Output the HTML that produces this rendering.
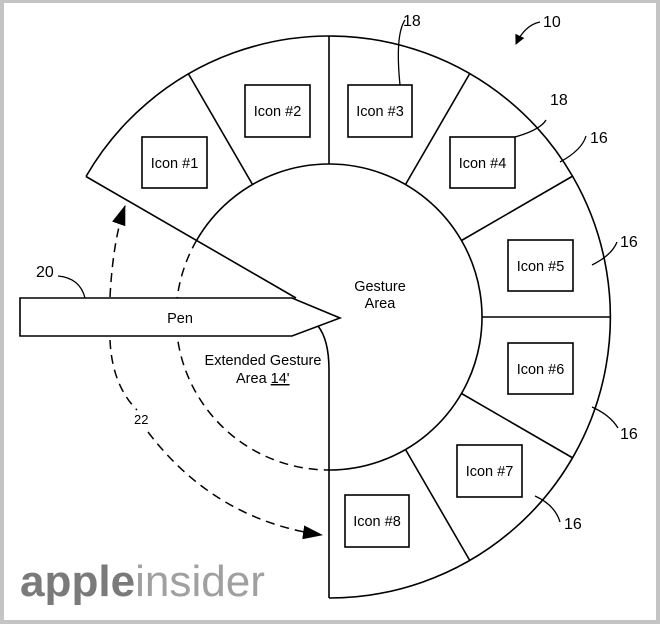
<!DOCTYPE html>
<html><head><meta charset="utf-8"><style>
html,body{margin:0;padding:0;background:#fff;}
svg{display:block;}
text{font-family:"Liberation Sans",sans-serif;fill:#000;}
</style></head><body>
<svg width="660" height="624" viewBox="0 0 660 624" xmlns="http://www.w3.org/2000/svg">
<rect x="0" y="0" width="660" height="624" fill="#c4c4c4"/>
<rect x="4" y="3" width="652" height="617" fill="#fff"/>
<defs>
<marker id="ah" markerWidth="10" markerHeight="10" refX="9" refY="5" orient="auto" markerUnits="userSpaceOnUse"><path d="M0,0 L10,5 L0,10 Z" fill="#000"/></marker>
<marker id="ah2" markerWidth="20" markerHeight="14" refX="19" refY="7" orient="auto" markerUnits="userSpaceOnUse"><path d="M0,0 L20,7 L0,14 Z" fill="#000"/></marker>
</defs>
<g fill="none" stroke="#000" stroke-width="1.5" stroke-dasharray="9,6">
<path d="M196.5,240.5 A153,153 0 0 0 329,470"/>
<path d="M110,297 Q113,240 125,206" marker-end="url(#ah2)"/>
<path d="M110,340 Q112,385 137,410"/>
<path d="M148,432 Q215,520 322,535" marker-end="url(#ah2)"/>
</g>
<g fill="none" stroke="#000" stroke-width="1.6">
<path d="M86,176.5 A281,281 0 1 1 329,598"/>
<path d="M196.5,240.5 A153,153 0 1 1 329,470"/>
<path d="M86,176.5 L296,298"/>
<path d="M318,326 Q329,340 329,370 L329,598"/>
<path d="M188.5,74 L252.5,184.5"/>
<path d="M329,36 L329,164"/>
<path d="M469.5,74 L405.5,184.5"/>
<path d="M572,176.5 L461.5,240.5"/>
<path d="M610,317 L482,317"/>
<path d="M572,457.5 L461.5,393.5"/>
<path d="M469.5,560 L405.5,449.5"/>
<path d="M20,298 L292,298 L340,318 L292,336 L20,336 Z" fill="#fff"/>
<rect x="142" y="137" width="65" height="51"/>
<rect x="245" y="85" width="65" height="52"/>
<rect x="348" y="85" width="64" height="52"/>
<rect x="450" y="137" width="65" height="51"/>
<rect x="508" y="240" width="65" height="51"/>
<rect x="508" y="343" width="65" height="51"/>
<rect x="457" y="445" width="65" height="52"/>
<rect x="345" y="495" width="64" height="52"/>
</g>
<g fill="none" stroke="#000" stroke-width="1.3">
<path d="M58,276 Q80,278 85,298"/>
<path d="M405,20 Q395,35 400,85"/>
<path d="M546,120 Q540,130 515,137"/>
<path d="M586,136 Q582,150 560,162"/>
<path d="M617,242 Q612,255 592,265"/>
<path d="M618,428 Q610,415 592,407"/>
<path d="M560,522 Q555,505 535,496"/>
<path d="M540,22 Q525,25 516,44" marker-end="url(#ah)"/>
</g>
<g font-size="14.5" text-anchor="middle">
<text x="174.5" y="168">Icon #1</text>
<text x="277.5" y="116">Icon #2</text>
<text x="380" y="116">Icon #3</text>
<text x="482.5" y="168">Icon #4</text>
<text x="540.5" y="271">Icon #5</text>
<text x="540.5" y="374">Icon #6</text>
<text x="489.5" y="476">Icon #7</text>
<text x="377" y="526">Icon #8</text>
<text x="180" y="323">Pen</text>
<text x="380" y="291">Gesture</text>
<text x="380" y="308">Area</text>
<text x="263" y="365">Extended Gesture</text>
</g>
<text x="236" y="383" font-size="14.5">Area <tspan text-decoration="underline">14'</tspan></text>
<g font-size="16">
<text x="36" y="277">20</text>
<text x="403" y="26">18</text>
<text x="543" y="27">10</text>
<text x="550" y="105">18</text>
<text x="590" y="143">16</text>
<text x="620" y="247">16</text>
<text x="620" y="439">16</text>
<text x="564" y="529">16</text>
<text x="134" y="424" font-size="13">22</text>
</g>
<text x="20" y="596" font-size="44" font-weight="bold" textLength="245" lengthAdjust="spacingAndGlyphs" style="fill:#7a7a7a">apple<tspan style="fill:#a0a0a0;font-weight:normal">insider</tspan></text>
</svg>
</body></html>
